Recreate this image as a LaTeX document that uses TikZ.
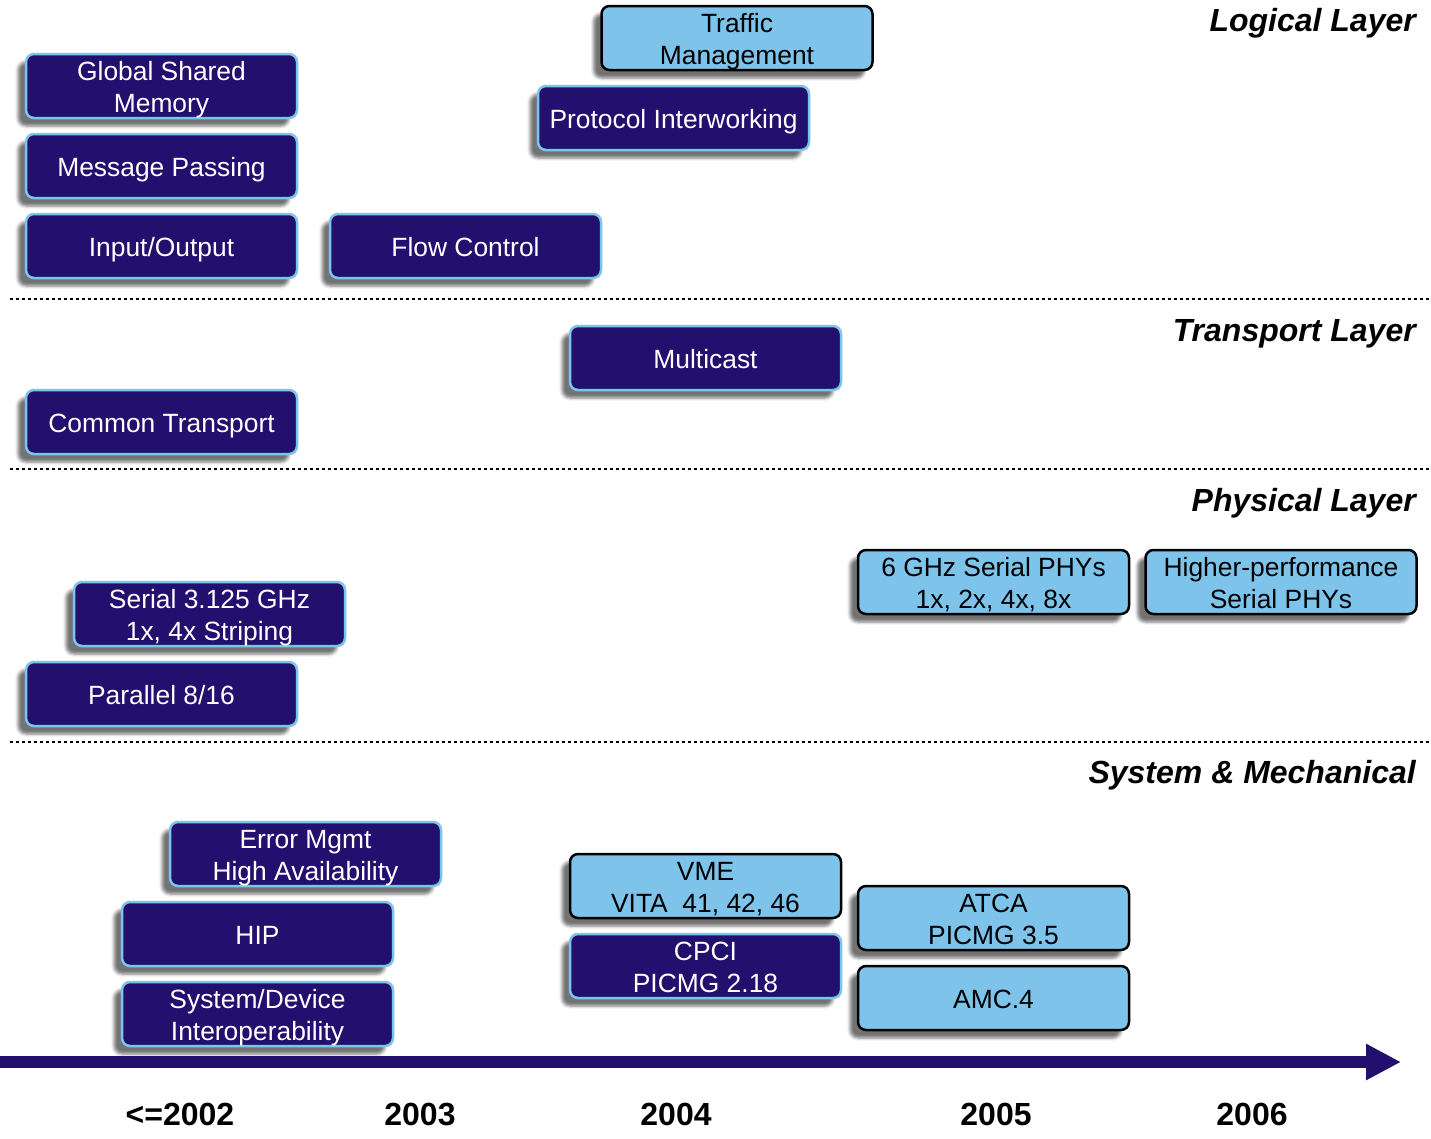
\documentclass[tikz,border=0pt]{standalone}
\usepackage{fontspec}
\setmainfont{Liberation Sans}
\usetikzlibrary{shadows.blur,arrows.meta}
\definecolor{navy}{HTML}{22106E}
\definecolor{lblue}{HTML}{7DC3EA}
\newcommand\lnstrut{\rule[-5pt]{0pt}{30.9pt}}
\tikzset{
  box/.style={rounded corners=8pt, minimum width=271pt, minimum height=64pt, inner sep=0pt,
    align=center, font=\fontsize{26.4}{32}\selectfont, line width=2.5pt,
    blur shadow={shadow xshift=-8pt, shadow yshift=-8pt, shadow blur radius=3pt, shadow opacity=55}},
  dbox/.style={box, fill=navy, draw=lblue, text=white},
  lbox/.style={box, fill=lblue, draw=black, text=black},
  sep/.style={line width=2.5pt, dash pattern=on 2.5pt off 3.5pt},
  layer/.style={anchor=base east, inner sep=0pt, font=\fontsize{32}{38}\selectfont\bfseries\itshape},
  year/.style={anchor=base, inner sep=0pt, font=\fontsize{32}{38}\selectfont\bfseries},
}
\begin{document}
\begin{tikzpicture}[x=1pt,y=-1pt]
\useasboundingbox (0,0) rectangle (1431,1138);
% Logical layer
\node[dbox] (gsm) at (161.5,86) {\lnstrut Global Shared\\\lnstrut Memory};
\node[dbox] (mp) at (161.5,166) {\lnstrut Message Passing};
\node[dbox] (io) at (161.5,246) {\lnstrut Input/Output};
\node[dbox] (fc) at (465.5,246) {\lnstrut Flow Control};
\node[lbox] (tm) at (737,38) {\lnstrut Traffic\\\lnstrut Management};
\node[dbox] (pi) at (673.5,118) {\lnstrut Protocol Interworking};
\node[layer] (ll) at (1416,31.5) {Logical Layer};
\coordinate (s1a) at (10,299); \coordinate (s1b) at (1431,299);
\draw[sep] (s1a) -- (s1b);
% Transport layer
\node[layer] (tl) at (1416,341.5) {Transport Layer};
\node[dbox] (mc) at (705.5,358) {\lnstrut Multicast};
\node[dbox] (ct) at (161.5,422) {\lnstrut Common Transport};
\coordinate (s2a) at (10,469); \coordinate (s2b) at (1431,469);
\draw[sep] (s2a) -- (s2b);
% Physical layer
\node[layer] (pl) at (1416,511.5) {Physical Layer};
\node[lbox] (g6) at (993.5,582) {\lnstrut 6 GHz Serial PHYs\\\lnstrut 1x, 2x, 4x, 8x};
\node[lbox] (hp) at (1281,582) {\lnstrut Higher-performance\\\lnstrut Serial PHYs};
\node[dbox] (s3) at (209.5,614) {\lnstrut Serial 3.125 GHz\\\lnstrut 1x, 4x Striping};
\node[dbox] (p8) at (161.5,694) {\lnstrut Parallel 8/16};
\coordinate (s3a) at (10,742); \coordinate (s3b) at (1431,742);
\draw[sep] (s3a) -- (s3b);
% System & Mechanical
\node[layer] (sm) at (1416,783.5) {System \& Mechanical};
\node[dbox] (em) at (305.5,854) {\lnstrut Error Mgmt\\\lnstrut High Availability};
\node[dbox] (hip) at (257.5,934) {\lnstrut HIP};
\node[dbox] (sd) at (257.5,1014) {\lnstrut System/Device\\\lnstrut Interoperability};
\node[lbox] (vme) at (705.5,886) {\lnstrut VME\\\lnstrut VITA\ \ 41, 42, 46};
\node[dbox] (cpci) at (705.5,966) {\lnstrut CPCI\\\lnstrut PICMG 2.18};
\node[lbox] (atca) at (993.5,918) {\lnstrut ATCA\\\lnstrut PICMG 3.5};
\node[lbox] (amc) at (993.5,998) {\lnstrut AMC.4};
% Timeline
\coordinate (axL) at (0,1062); \coordinate (axR) at (1401,1062);
\draw[navy, line width=12pt, -{Triangle[length=35pt,width=34pt]}] (axL) -- (axR);
\node[year] (y2) at (180,1125.5) {<=2002};
\node[year] (y3) at (420,1125.5) {2003};
\node[year] (y4) at (676,1125.5) {2004};
\node[year] (y5) at (996,1125.5) {2005};
\node[year] (y6) at (1252,1125.5) {2006};
\end{tikzpicture}
\end{document}
